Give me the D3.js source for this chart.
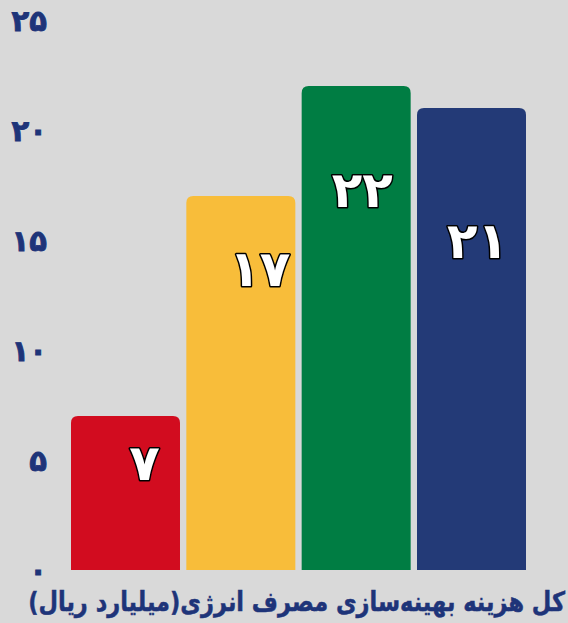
<!DOCTYPE html>
<html><head><meta charset="utf-8">
<script src="https://cdn.jsdelivr.net/npm/d3@7"></script>
<style>
html,body{margin:0;padding:0;background:#d9d9d9;}
svg{display:block;}
</style></head>
<body><svg id="c" width="568" height="623"></svg>
<script>
const categories = ["A", "B", "C", "D"];
const values = [7, 17, 22, 21];
const colors = ["#d20c1f", "#f8bd3a", "#007d43", "#233a77"];
const tickValues = [0, 5, 10, 15, 20, 25];
const title = "کل هزینه بهینه‌سازی مصرف انرژی(میلیارد ریال)";

// label placement (layout only): depth below bar top in data units, horizontal shift px
const labelDepth = [2.1, 3.3, 4.7, 6.0];
const labelDx = [19, 19, 6, 6];

const fa = n => String(n).replace(/[0-9]/g, d => "۰۱۲۳۴۵۶۷۸۹"[d]);
const svg = d3.select("#c");
const W = 568, H = 623;
svg.append("rect").attr("width", W).attr("height", H).attr("fill", "#d9d9d9");

const y = d3.scaleLinear().domain([0, 25]).range([570, 20]);
const x = d3.scaleBand().domain(categories).range([71, 526]).paddingInner(0.055).paddingOuter(0);

const font = "'DejaVu Sans', sans-serif";
const navy = "#1e3479";

// y axis
const ax = svg.append("g").attr("transform", "translate(47,0)")
  .call(d3.axisLeft(y).tickValues(tickValues).tickFormat(fa).tickSize(0).tickPadding(0));
ax.select(".domain").remove();
ax.selectAll("text").attr("text-anchor", "end").attr("x", 0)
  .attr("font-family", font).attr("font-weight", "bold").attr("font-size", 29)
  .attr("fill", navy).attr("dy", "0.35em").attr("stroke", navy).attr("stroke-width", 0.9);

// bars with rounded top corners
const r = 7;
function barPath(x0, w, yt, yb) {
  return `M${x0},${yb}V${yt + r}Q${x0},${yt} ${x0 + r},${yt}H${x0 + w - r}Q${x0 + w},${yt} ${x0 + w},${yt + r}V${yb}Z`;
}
svg.append("g").selectAll("path").data(values).join("path")
  .attr("d", (d, i) => barPath(x(categories[i]), x.bandwidth(), y(d), y(0)))
  .attr("fill", (d, i) => colors[i]);

// value labels
svg.append("g").selectAll("text").data(values).join("text")
  .attr("x", (d, i) => x(categories[i]) + x.bandwidth() / 2 + labelDx[i])
  .attr("y", (d, i) => y(d - labelDepth[i]))
  .attr("dy", "0.35em")
  .attr("text-anchor", "middle")
  .attr("font-family", font).attr("font-weight", "bold").attr("font-size", 50)
  .attr("fill", "#fff").attr("stroke", "#000").attr("stroke-width", 3)
  .attr("paint-order", "stroke").attr("stroke-linejoin", "round")
  .text(d => fa(d));

// title (scaled horizontally to fit the reference width)
const tg = svg.append("g");
const tt = tg.append("text")
  .attr("x", 0).attr("y", 0).attr("dy", "0.35em")
  .attr("direction", "rtl").attr("text-anchor", "start")
  .attr("font-family", font).attr("font-weight", "bold").attr("font-size", 27)
  .attr("fill", navy).attr("stroke", navy).attr("stroke-width", 0.5)
  .text(title);
const natural = tt.node().getComputedTextLength();
const sx = Math.min(1, 537 / natural);
tg.attr("transform", `translate(565,602) scale(${sx},1)`);
</script></body></html>
